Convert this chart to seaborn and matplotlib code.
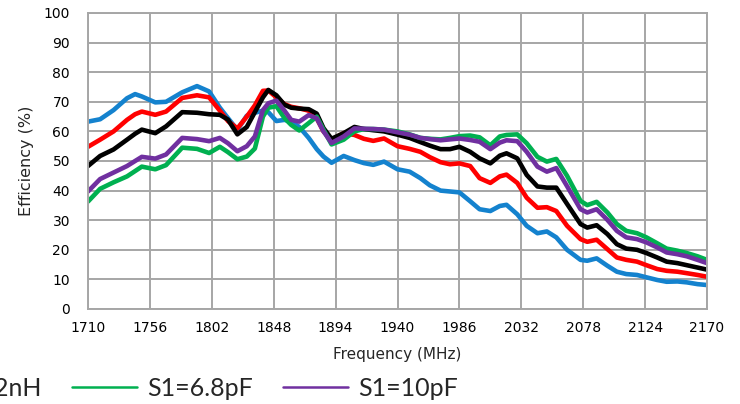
import matplotlib
matplotlib.use("Agg")
import matplotlib.pyplot as plt
from matplotlib.lines import Line2D
import seaborn as sns
import pandas as pd

freq = [1710, 1719, 1729, 1739, 1745, 1750, 1760, 1768, 1780, 1791, 1800, 1808, 1814, 1821, 1828,
        1834, 1840, 1844, 1850, 1856, 1861, 1867, 1874, 1880, 1885, 1891, 1900, 1908, 1915,
        1922, 1930, 1940, 1949, 1957, 1964, 1972, 1979, 1986, 1994, 2001, 2009, 2016, 2021,
        2029, 2036, 2044, 2051, 2058, 2066, 2076, 2081, 2088, 2096, 2103, 2110, 2118, 2125,
        2133, 2140, 2148, 2155, 2163, 2170]

blue = [63.3, 64.1, 67.2, 71.2, 72.6, 71.8, 69.8, 70.0, 73.2, 75.3, 73.5, 68.0, 64.5, 60.5, 65.3,
        66.3, 67.0, 66.5, 63.5, 63.9, 63.3, 61.5, 57.8, 54.0, 51.5, 49.4, 51.7, 50.3, 49.3,
        48.7, 49.8, 47.2, 46.4, 44.2, 41.8, 40.0, 39.7, 39.4, 36.4, 33.7, 33.1, 34.8, 35.2,
        32.0, 28.1, 25.6, 26.2, 24.2, 20.0, 16.6, 16.3, 17.1, 14.6, 12.6, 11.8, 11.5, 10.7,
        9.8, 9.2, 9.3, 9.0, 8.4, 8.1]

red = [54.8, 57.2, 60.0, 63.9, 65.8, 66.7, 65.6, 66.7, 71.3, 72.2, 71.5, 67.0, 63.5, 61.0, 65.0,
       68.8, 73.7, 73.8, 71.5, 69.2, 68.3, 67.8, 67.0, 64.4, 60.0, 57.2, 59.4, 58.8, 57.5,
       56.8, 57.6, 55.0, 54.1, 53.1, 51.3, 49.6, 48.9, 49.2, 48.3, 44.2, 42.6, 44.8, 45.4,
       42.6, 37.6, 34.2, 34.4, 33.1, 28.1, 23.6, 22.7, 23.4, 20.2, 17.4, 16.6, 16.0, 14.8,
       13.5, 12.9, 12.6, 12.1, 11.5, 10.9]

black = [48.3, 51.7, 53.9, 57.2, 59.2, 60.6, 59.4, 61.7, 66.5, 66.3, 65.8, 65.6, 64.0, 59.0, 61.5,
         66.5, 71.5, 74.0, 72.2, 69.0, 68.0, 67.7, 67.5, 66.0, 61.1, 57.5, 59.4, 61.5, 60.8,
         60.4, 60.0, 58.9, 57.8, 56.4, 55.2, 54.0, 54.0, 54.8, 53.1, 50.9, 49.2, 51.8, 52.6,
         50.9, 45.3, 41.4, 41.0, 41.0, 35.5, 28.7, 27.5, 28.3, 25.3, 21.9, 20.4, 20.0, 18.9,
         17.4, 16.0, 15.5, 14.8, 14.0, 13.3]

green = [36.3, 40.6, 42.8, 44.8, 46.6, 48.1, 47.2, 48.6, 54.5, 54.1, 52.7, 54.8, 53.0, 50.6, 51.5,
         54.2, 65.0, 68.0, 68.5, 64.5, 62.2, 60.3, 62.8, 65.0, 60.6, 55.6, 57.2, 60.0, 60.8,
         60.8, 60.6, 60.0, 59.0, 57.8, 57.5, 57.3, 57.8, 58.4, 58.6, 58.0, 55.3, 58.3, 58.8,
         59.0, 56.0, 51.4, 49.8, 50.7, 45.0, 36.5, 35.1, 36.2, 32.6, 28.7, 26.4, 25.6, 24.2,
         22.2, 20.4, 19.7, 18.9, 17.8, 16.6]

purple = [39.7, 43.9, 46.1, 48.3, 50.0, 51.4, 50.8, 52.2, 57.8, 57.4, 56.7, 57.8, 56.0, 53.3, 55.0,
          58.3, 67.2, 69.5, 70.4, 67.0, 63.9, 63.3, 65.5, 64.4, 60.0, 56.1, 58.3, 61.0, 60.9,
          60.8, 60.6, 59.7, 58.9, 57.8, 57.4, 57.0, 57.3, 57.6, 57.1, 56.5, 54.0, 56.2, 57.0,
          56.7, 53.1, 48.1, 46.4, 47.6, 41.5, 33.7, 32.6, 33.7, 30.1, 26.4, 24.2, 23.6, 22.5,
          20.8, 19.1, 18.5, 17.8, 16.6, 15.5]

series_names = ["S1=3.3nH", "S1=5.6nH", "S1=8.2nH", "S1=6.8pF", "S1=10pF"]
series_values = [blue, red, black, green, purple]
colors = ["#1482CE", "#FF0000", "#000000", "#00B050", "#7030A0"]

x_ticks = [1710, 1756, 1802, 1848, 1894, 1940, 1986, 2032, 2078, 2124, 2170]
y_ticks = [0, 10, 20, 30, 40, 50, 60, 70, 80, 90, 100]

rows = []
for name, vals in zip(series_names, series_values):
    for f, v in zip(freq, vals):
        rows.append({"Frequency": f, "Efficiency": v, "Series": name})
df = pd.DataFrame(rows)

sns.set_style("white")
plt.rcParams["font.family"] = ["DejaVu Sans"]

W, H = 740, 404
fig = plt.figure(figsize=(W / 100, H / 100), dpi=100)
ax = fig.add_axes([88 / W, 1 - 309 / H, (707 - 88) / W, (309 - 13) / H])

sns.lineplot(data=df, x="Frequency", y="Efficiency", hue="Series",
             palette=dict(zip(series_names, colors)), hue_order=series_names,
             estimator=None, sort=False, linewidth=3.3, legend=False, ax=ax)
for ln in ax.get_lines():
    ln.set_solid_joinstyle("round")
    ln.set_solid_capstyle("round")

ax.set_xlim(1710, 2170)
ax.set_ylim(0, 100)
ax.set_xticks(x_ticks)
ax.set_yticks(y_ticks)
ax.set_xticklabels([str(t) for t in x_ticks])
ax.set_yticklabels([str(t) for t in y_ticks])
ax.grid(True, color="#A6A6A6", linewidth=1.4)
ax.set_axisbelow(True)
for sp in ax.spines.values():
    sp.set_color("#A6A6A6")
    sp.set_linewidth(1.4)
ax.tick_params(axis="both", length=0, labelsize=10, colors="#000000")
ax.tick_params(axis="x", pad=9)
ax.tick_params(axis="y", pad=13)

ax.set_xlabel("Frequency (MHz)", fontsize=11)
ax.set_ylabel("Efficiency (%)", fontsize=11.5)
ax.xaxis.set_label_coords(0.5, (309 - 355) / 296)
ax.xaxis.label.set_va("center")
ax.yaxis.set_label_coords((26 - 88) / 619, 0.5)
ax.yaxis.label.set_va("center")

handles = [Line2D([0], [0], color=c, linewidth=1.8) for c in colors]
leg_y = (H - 388) / H
leg = fig.legend(handles, series_names, loc="center left", bbox_to_anchor=(0, leg_y),
                 ncol=5, frameon=False, prop={"family": "Lato", "size": 18},
                 handlelength=2.6, handletextpad=0.4, columnspacing=1.2,
                 borderaxespad=0, borderpad=0)
fig.canvas.draw()
renderer = fig.canvas.get_renderer()
bb = leg.get_texts()[3].get_window_extent(renderer)
dx = 147 - bb.x0
leg.set_bbox_to_anchor((dx / W, leg_y), transform=fig.transFigure)

fig.savefig("out.png", dpi=100)
